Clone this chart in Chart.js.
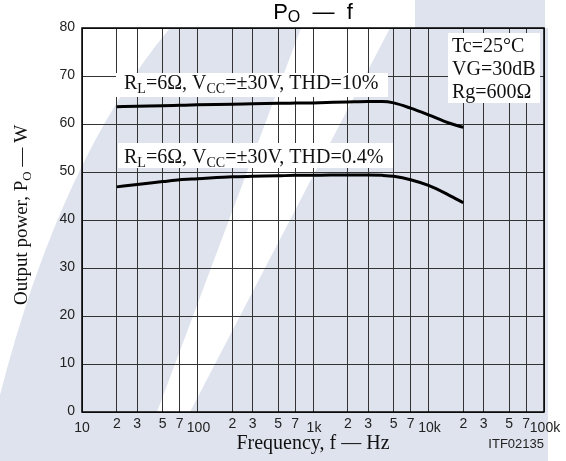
<!DOCTYPE html>
<html lang="en">
<head>
    <meta charset="UTF-8">
    <title>PO - f</title>
    <script src="https://cdn.jsdelivr.net/npm/chart.js"></script>
    <style>
        body { margin: 0; background: white; }
        #wrap { width: 566px; height: 461px; }
    </style>
</head>
<body>
    <div id="wrap"><canvas id="myChart" width="566" height="461"></canvas></div>
    <script>
        // frequency points (Hz)
        const freqs = [20, 30, 50, 70, 100, 200, 300, 500, 700, 1000, 2000, 3000, 4000, 5000, 7000, 10000, 15000, 20000];
        const thd10 = [63.6, 63.7, 63.8, 63.9, 64.0, 64.1, 64.2, 64.3, 64.35, 64.4, 64.6, 64.7, 64.7, 64.4, 63.3, 61.9, 60.2, 59.3];
        const thd04 = [46.9, 47.4, 48.0, 48.4, 48.6, 49.0, 49.1, 49.2, 49.3, 49.3, 49.4, 49.4, 49.3, 49.1, 48.4, 47.2, 45.2, 43.6];

        const xGrid = [10, 20, 30, 50, 70, 100, 200, 300, 500, 700, 1000, 2000, 3000, 5000, 7000,
                       10000, 20000, 30000, 50000, 70000, 100000];
        const xTickLabels = ['10', '2', '3', '5', '7', '100', '2', '3', '5', '7', '1k', '2', '3', '5', '7',
                             '10k', '2', '3', '5', '7', '100k'];
        const yTicks = [0, 10, 20, 30, 40, 50, 60, 70, 80];

        const serif = '"Liberation Serif", "Times New Roman", serif';
        const sans = '"Liberation Sans", Arial, sans-serif';

        // text with subscripts: parts = [[text, isSub], ...]
        function drawRuns(ctx, parts, x, y, size) {
            let cx = x;
            ctx.textAlign = 'left';
            parts.forEach(([t, sub]) => {
                ctx.font = (sub ? Math.round(size * 0.7) : size) + 'px ' + serif;
                ctx.fillText(t, cx, sub ? y + 4 : y);
                cx += ctx.measureText(t).width;
            });
            return cx - x;
        }
        function runsWidth(ctx, parts, size, family) {
            let w = 0;
            parts.forEach(([t, sub]) => {
                ctx.font = (sub ? Math.round(size * 0.7) : size) + 'px ' + family;
                w += ctx.measureText(t).width;
            });
            return w;
        }

        const watermark = {
            id: 'watermark',
            beforeDraw(chart) {
                const ctx = chart.ctx;
                ctx.save();
                ctx.fillStyle = 'white';
                ctx.fillRect(0, 0, chart.width, chart.height);
                ctx.fillStyle = '#dfe3ee';
                ctx.beginPath();
                ctx.moveTo(0, 461);
                ctx.lineTo(0, 395);
                ctx.quadraticCurveTo(60, 160, 170, 28);
                ctx.lineTo(548, 28);
                ctx.lineTo(548, 461);
                ctx.closePath();
                ctx.fill();
                ctx.fillRect(415, 0, 130, 46);
                // one wide white diagonal band through the plot
                ctx.fillStyle = 'white';
                ctx.beginPath();
                ctx.moveTo(301, 28);
                ctx.lineTo(390, 28);
                ctx.lineTo(190, 412);
                ctx.lineTo(157, 412);
                ctx.closePath();
                ctx.fill();
                ctx.restore();
            }
        };

        const labels = {
            id: 'labels',
            afterDraw(chart) {
                const ctx = chart.ctx;
                const xs = chart.scales.x, ys = chart.scales.y;
                const a = chart.chartArea;
                ctx.save();
                // frame
                ctx.strokeStyle = '#000';
                ctx.lineWidth = 1.5;
                ctx.strokeRect(a.left, a.top, a.right - a.left, a.bottom - a.top);

                ctx.fillStyle = '#222';
                // y tick labels
                ctx.font = '14px ' + sans;
                ctx.textAlign = 'right';
                ctx.textBaseline = 'middle';
                yTicks.forEach(v => ctx.fillText(String(v), a.left - 7, ys.getPixelForValue(v) - 1));
                // x tick labels
                ctx.textAlign = 'center';
                ctx.textBaseline = 'alphabetic';
                xGrid.forEach((v, i) => {
                    const decade = i % 5 === 0;
                    ctx.fillText(xTickLabels[i], xs.getPixelForValue(v) + (decade && i > 0 ? 1 : 0), decade ? 432 : 428);
                });

                // title
                ctx.fillStyle = '#000';
                ctx.textAlign = 'left';
                const tParts = [['P', false], ['O', true], ['  \u2014  f', false]];
                let tw = 0;
                tParts.forEach(([t, sub]) => { ctx.font = (sub ? 16 : 22) + 'px ' + sans; tw += ctx.measureText(t).width; });
                let tx = (a.left + a.right) / 2 - tw / 2;
                tParts.forEach(([t, sub]) => {
                    ctx.font = (sub ? 16 : 22) + 'px ' + sans;
                    ctx.fillText(t, tx, sub ? 22 : 19);
                    tx += ctx.measureText(t).width;
                });

                // axis titles
                ctx.fillStyle = '#111';
                ctx.font = '20px ' + serif;
                ctx.textAlign = 'center';
                ctx.fillText('Frequency, f \u2014 Hz', (a.left + a.right) / 2, 449);
                ctx.font = '13px ' + sans;
                ctx.textAlign = 'right';
                ctx.fillStyle = '#222';
                ctx.fillText('ITF02135', 544, 448);

                ctx.save();
                ctx.translate(27, 215);
                ctx.rotate(-Math.PI / 2);
                ctx.fillStyle = '#111';
                const yParts = [['Output power, P', false], ['O', true], [' \u2014 W', false]];
                const yw = runsWidth(ctx, yParts, 19, serif);
                drawRuns(ctx, yParts, -yw / 2, 0, 19);
                ctx.restore();

                // curve labels on white boxes
                const curveLabel = (suffix, bx, by, bw, bh, tx0, base) => {
                    ctx.fillStyle = 'white';
                    ctx.fillRect(bx, by, bw, bh);
                    ctx.fillStyle = '#111';
                    drawRuns(ctx, [['R', false], ['L', true], ['=6\u03a9, V', false], ['CC', true],
                                   ['=\u00b130V, THD=' + suffix, false]], tx0, base, 20);
                };
                curveLabel('10%', 116, 73, 272, 24, 124, 89);
                curveLabel('0.4%', 118, 143, 275, 25, 124, 163);

                // condition box
                ctx.fillStyle = 'white';
                ctx.fillRect(448, 33, 92, 70);
                ctx.fillStyle = '#111';
                ctx.font = '20px ' + serif;
                ctx.textAlign = 'left';
                ctx.fillText('Tc=25\u00b0C', 452, 52);
                ctx.fillText('VG=30dB', 452, 75);
                ctx.fillText('Rg=600\u03a9', 452, 98);
                ctx.restore();
            }
        };

        const ctx = document.getElementById('myChart').getContext('2d');
        const chart = new Chart(ctx, {
            type: 'line',
            data: {
                datasets: [
                    { label: 'THD=10%', data: freqs.map((f, i) => ({ x: f, y: thd10[i] })) },
                    { label: 'THD=0.4%', data: freqs.map((f, i) => ({ x: f, y: thd04[i] })) }
                ].map(d => Object.assign(d, {
                    borderColor: '#000',
                    borderWidth: 3,
                    pointRadius: 0,
                    fill: false,
                    cubicInterpolationMode: 'monotone'
                }))
            },
            options: {
                responsive: false,
                animation: false,
                devicePixelRatio: 1,
                layout: { padding: { left: 82, top: 28, right: 22, bottom: 49 } },
                plugins: { legend: { display: false }, tooltip: { enabled: false } },
                scales: {
                    x: {
                        type: 'logarithmic',
                        min: 10,
                        max: 100000,
                        afterBuildTicks: s => { s.ticks = xGrid.map(v => ({ value: v })); },
                        ticks: { display: false },
                        grid: { color: '#333', lineWidth: 1, drawTicks: false },
                        border: { display: false }
                    },
                    y: {
                        min: 0,
                        max: 80,
                        afterBuildTicks: s => { s.ticks = yTicks.map(v => ({ value: v })); },
                        ticks: { display: false },
                        grid: { color: '#333', lineWidth: 1, drawTicks: false },
                        border: { display: false }
                    }
                }
            },
            plugins: [watermark, labels]
        });
    </script>
</body>
</html>
